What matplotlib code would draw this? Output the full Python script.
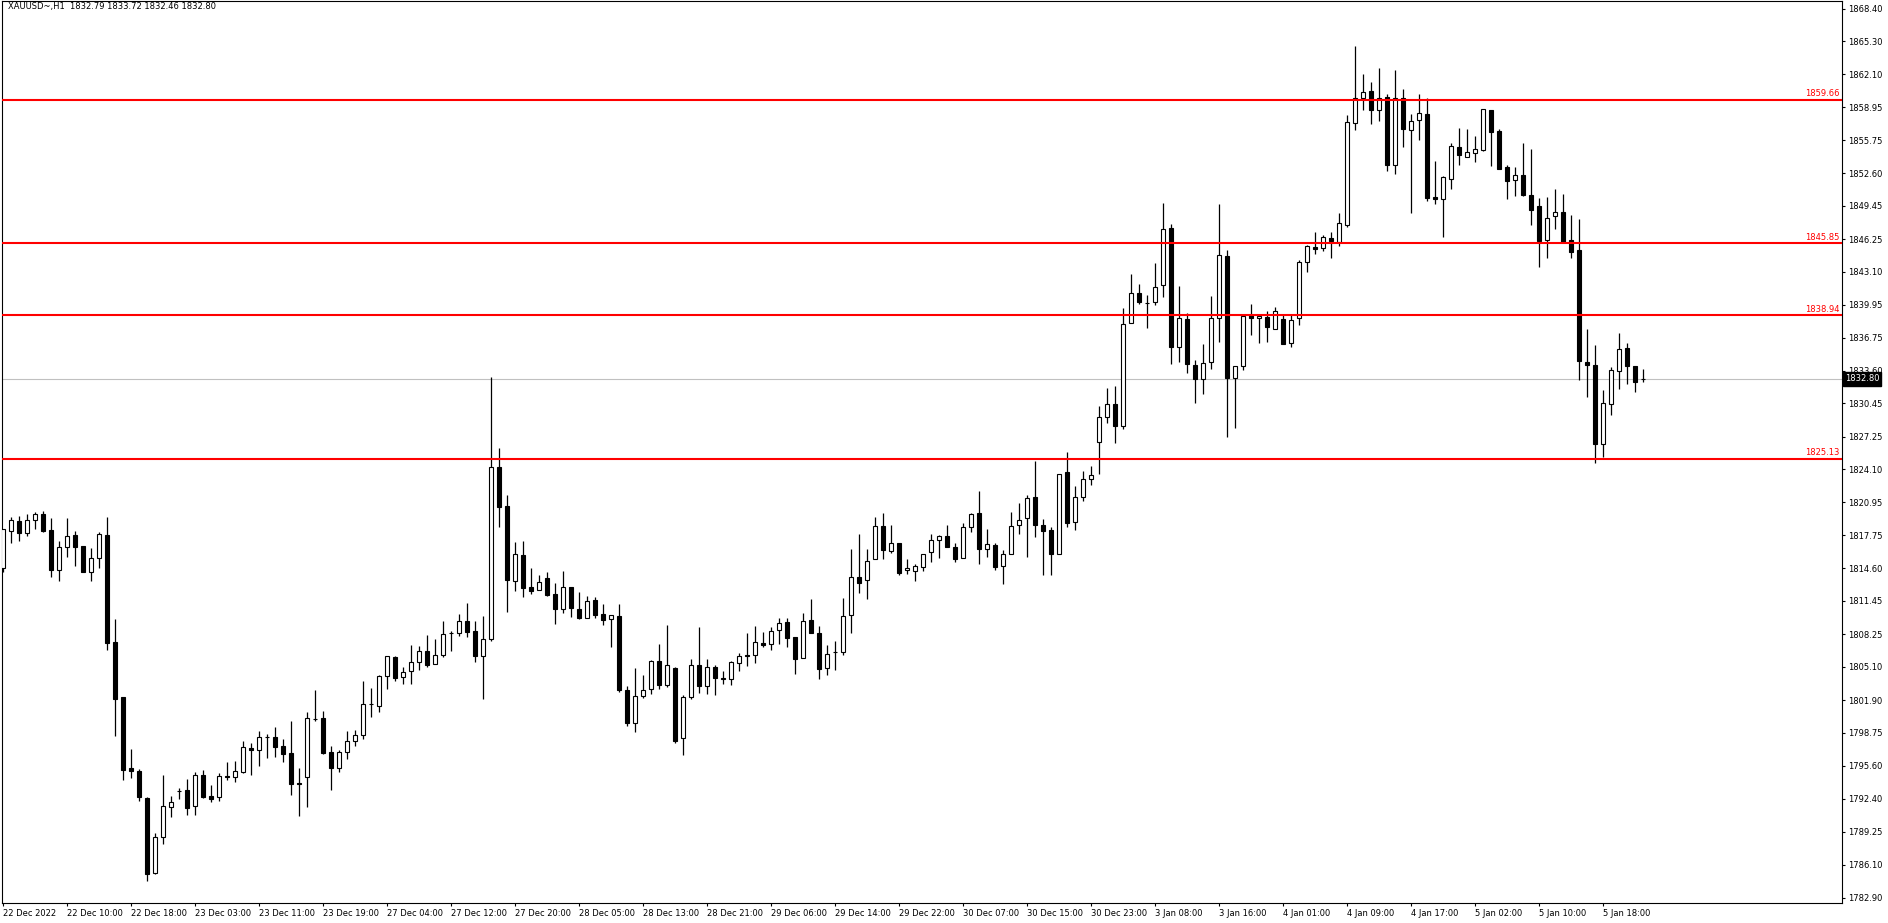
import matplotlib
matplotlib.use("Agg")
import matplotlib.pyplot as plt # matplotlib
import matplotlib.transforms as mtrans
import numpy as np # numpy

### data ###
symbol = "XAUUSD~,H1"
last_bar = [1832.79, 1833.72, 1832.46, 1832.80]  # o h l c of the last bar, shown in the title

opens = [
  1814.59, 1818.21, 1819.14, 1818.02, 1819.20, 1819.78, 1818.27, 1814.39, 1816.61, 1817.76,
  1816.73, 1814.27, 1815.61, 1817.76, 1807.47, 1802.21, 1795.38, 1795.09, 1792.50, 1785.31,
  1788.78, 1791.60, 1793.20, 1793.23, 1791.69, 1794.67, 1792.69, 1792.56, 1794.61, 1794.48,
  1794.99, 1797.30, 1797.08, 1798.36, 1798.33, 1797.46, 1796.79, 1793.90, 1794.48, 1800.12,
  1800.16, 1796.89, 1795.35, 1796.90, 1798.00, 1798.60, 1801.55, 1801.38, 1804.19, 1806.09,
  1804.10, 1804.68, 1805.54, 1806.60, 1805.35, 1806.21, 1808.37, 1808.33, 1809.49, 1808.56,
  1806.12, 1807.82, 1824.30, 1820.58, 1813.40, 1815.84, 1812.76, 1812.47, 1813.62, 1812.12,
  1810.64, 1812.79, 1810.67, 1809.78, 1811.54, 1810.19, 1809.68, 1810.00, 1802.88, 1799.74,
  1802.34, 1802.95, 1805.67, 1803.40, 1805.00, 1798.23, 1802.18, 1805.26, 1803.24, 1805.07,
  1804.04, 1803.91, 1805.45, 1806.25, 1806.22, 1807.37, 1807.31, 1808.63, 1809.43, 1807.98,
  1806.00, 1809.59, 1808.34, 1804.97, 1806.54, 1806.51, 1810.07, 1813.75, 1813.43, 1815.45,
  1818.63, 1816.29, 1816.99, 1814.39, 1814.36, 1814.75, 1816.13, 1817.28, 1817.66, 1816.61,
  1815.55, 1818.53, 1819.88, 1816.41, 1816.80, 1814.78, 1815.93, 1818.72, 1819.40, 1821.42,
  1818.72, 1818.24, 1815.93, 1823.82, 1819.01, 1821.42, 1823.15, 1826.71, 1829.11, 1830.36,
  1828.24, 1838.15, 1841.04, 1840.14, 1840.17, 1841.81, 1847.29, 1835.84, 1838.53, 1834.14,
  1832.76, 1834.46, 1838.63, 1844.63, 1832.93, 1834.01, 1838.99, 1838.63, 1838.79, 1837.64,
  1838.57, 1836.23, 1838.63, 1844.02, 1845.46, 1845.36, 1846.32, 1846.01, 1847.61, 1857.39,
  1859.79, 1860.46, 1858.64, 1859.88, 1853.41, 1859.79, 1856.71, 1857.67, 1858.25, 1850.30,
  1850.08, 1852.07, 1855.08, 1854.18, 1854.57, 1854.86, 1858.64, 1856.65, 1853.18, 1851.90,
  1852.38, 1850.49, 1849.40, 1846.13, 1848.44, 1848.83, 1846.13, 1845.17, 1834.40, 1834.11,
  1826.58, 1830.42, 1833.53, 1835.75, 1834.01, 1832.79]

highs = [
  1818.34, 1819.55, 1819.62, 1819.81, 1820.00, 1820.10, 1819.43, 1817.22, 1819.43, 1818.18,
  1816.73, 1816.54, 1818.11, 1819.52, 1809.71, 1802.21, 1797.21, 1795.25, 1792.56, 1789.13,
  1794.71, 1792.69, 1793.46, 1794.32, 1794.99, 1795.19, 1793.74, 1794.90, 1795.96, 1796.05,
  1797.98, 1797.78, 1798.94, 1798.65, 1799.32, 1798.17, 1799.90, 1795.38, 1800.76, 1802.88,
  1800.86, 1797.46, 1797.11, 1798.90, 1799.00, 1803.75, 1803.07, 1804.36, 1806.15, 1806.15,
  1805.06, 1807.21, 1807.11, 1808.17, 1807.79, 1809.52, 1808.56, 1810.19, 1811.25, 1809.52,
  1810.00, 1833.02, 1826.13, 1821.64, 1817.12, 1817.21, 1814.62, 1813.94, 1814.23, 1813.17,
  1814.33, 1812.79, 1812.31, 1811.92, 1811.80, 1811.15, 1810.06, 1811.15, 1803.24, 1805.00,
  1804.33, 1805.80, 1807.31, 1809.13, 1805.06, 1802.40, 1805.87, 1808.91, 1805.87, 1805.26,
  1804.68, 1805.67, 1806.45, 1808.40, 1809.04, 1808.46, 1808.94, 1809.81, 1809.81, 1807.98,
  1810.29, 1811.61, 1809.01, 1807.18, 1807.60, 1811.74, 1816.45, 1817.89, 1816.45, 1819.49,
  1819.91, 1818.75, 1816.99, 1815.48, 1815.00, 1815.93, 1817.89, 1817.79, 1818.75, 1816.99,
  1818.91, 1819.88, 1822.02, 1818.34, 1816.99, 1816.32, 1820.00, 1820.87, 1821.64, 1824.91,
  1819.33, 1818.53, 1823.63, 1825.78, 1822.51, 1823.95, 1824.43, 1830.20, 1831.93, 1832.09,
  1839.63, 1842.90, 1841.93, 1840.84, 1843.95, 1849.72, 1847.74, 1841.71, 1839.11, 1834.62,
  1836.16, 1840.78, 1849.63, 1845.20, 1834.01, 1838.95, 1840.01, 1838.92, 1839.31, 1839.72,
  1839.05, 1839.05, 1844.21, 1845.65, 1846.94, 1846.65, 1846.94, 1848.76, 1858.20, 1864.82,
  1862.13, 1861.33, 1862.68, 1860.17, 1862.48, 1860.66, 1858.28, 1860.17, 1859.79, 1853.76,
  1852.35, 1855.53, 1856.94, 1856.84, 1856.14, 1858.73, 1858.64, 1856.81, 1853.38, 1853.18,
  1855.49, 1854.92, 1850.17, 1850.27, 1851.04, 1850.56, 1848.54, 1848.15, 1837.57, 1836.03,
  1831.74, 1833.95, 1837.22, 1836.26, 1834.01, 1833.72]

lows = [
  1814.27, 1817.05, 1817.25, 1817.70, 1818.37, 1818.11, 1813.78, 1813.40, 1815.71, 1814.81,
  1814.27, 1813.40, 1814.65, 1806.76, 1798.49, 1794.26, 1794.45, 1792.24, 1784.54, 1785.22,
  1788.10, 1790.70, 1792.43, 1790.89, 1790.89, 1792.53, 1792.11, 1792.24, 1794.26, 1794.06,
  1794.87, 1794.74, 1795.60, 1796.37, 1796.47, 1795.99, 1792.81, 1790.79, 1791.66, 1799.93,
  1796.73, 1793.29, 1795.03, 1796.20, 1797.50, 1798.20, 1800.30, 1800.80, 1802.98, 1803.78,
  1803.43, 1803.43, 1804.77, 1805.06, 1805.35, 1806.02, 1806.67, 1808.11, 1808.01, 1805.61,
  1802.02, 1807.63, 1818.59, 1810.42, 1812.40, 1811.86, 1812.12, 1812.47, 1811.96, 1809.26,
  1810.32, 1809.94, 1809.74, 1809.78, 1809.84, 1809.17, 1807.05, 1802.72, 1799.45, 1798.88,
  1802.15, 1802.53, 1803.01, 1803.20, 1797.80, 1796.63, 1801.99, 1802.56, 1802.53, 1802.40,
  1803.50, 1803.40, 1804.71, 1805.23, 1805.52, 1806.99, 1806.77, 1807.34, 1807.05, 1804.46,
  1806.00, 1808.40, 1803.98, 1804.33, 1804.81, 1806.25, 1808.40, 1812.25, 1811.67, 1815.45,
  1815.45, 1816.09, 1813.98, 1814.07, 1813.40, 1814.36, 1815.23, 1815.61, 1816.61, 1815.23,
  1815.55, 1818.05, 1814.97, 1815.64, 1814.46, 1813.11, 1815.93, 1817.89, 1815.71, 1817.63,
  1813.98, 1813.98, 1815.93, 1818.53, 1818.27, 1821.10, 1822.63, 1823.63, 1828.53, 1826.61,
  1828.02, 1838.15, 1840.04, 1837.73, 1839.88, 1840.71, 1834.27, 1834.46, 1833.41, 1830.52,
  1831.35, 1833.79, 1836.39, 1827.25, 1828.12, 1833.66, 1837.06, 1836.29, 1836.35, 1837.57,
  1836.13, 1835.90, 1837.99, 1843.12, 1844.85, 1845.14, 1844.47, 1845.59, 1847.40, 1856.75,
  1858.67, 1857.36, 1857.64, 1852.83, 1852.55, 1855.14, 1848.79, 1855.82, 1849.95, 1849.66,
  1846.49, 1851.10, 1853.41, 1854.12, 1853.70, 1854.76, 1853.31, 1853.03, 1850.14, 1850.36,
  1850.43, 1847.64, 1843.60, 1844.47, 1847.25, 1845.84, 1844.47, 1832.70, 1831.10, 1824.75,
  1825.29, 1829.37, 1831.87, 1832.35, 1831.58, 1832.46]

closes = [
  1818.34, 1819.20, 1818.02, 1819.20, 1819.78, 1818.21, 1814.46, 1816.61, 1817.67, 1816.67,
  1814.27, 1815.55, 1817.86, 1807.44, 1802.05, 1795.22, 1795.12, 1792.62, 1785.22, 1788.74,
  1791.73, 1792.11, 1793.17, 1791.57, 1794.67, 1792.62, 1792.43, 1794.58, 1794.48, 1795.06,
  1797.37, 1797.08, 1798.33, 1798.33, 1797.43, 1796.76, 1793.87, 1793.87, 1800.16, 1800.09,
  1796.79, 1795.41, 1796.89, 1798.00, 1798.60, 1801.50, 1801.50, 1804.23, 1806.15, 1804.07,
  1804.64, 1805.54, 1806.60, 1805.25, 1806.21, 1808.24, 1808.33, 1809.49, 1808.49, 1806.19,
  1807.76, 1824.30, 1820.52, 1813.49, 1815.93, 1812.73, 1812.44, 1813.24, 1812.05, 1810.71,
  1812.79, 1810.80, 1809.81, 1811.41, 1810.13, 1809.65, 1810.06, 1802.91, 1799.74, 1802.27,
  1802.85, 1805.67, 1803.40, 1805.26, 1798.01, 1802.21, 1805.26, 1803.30, 1805.07, 1804.01,
  1803.98, 1805.55, 1806.12, 1806.19, 1807.47, 1807.25, 1808.56, 1809.30, 1807.92, 1805.90,
  1809.49, 1808.40, 1804.94, 1806.38, 1806.51, 1809.97, 1813.75, 1813.21, 1815.26, 1818.63,
  1816.32, 1816.99, 1814.17, 1814.62, 1814.81, 1815.93, 1817.31, 1817.70, 1816.61, 1815.52,
  1818.53, 1819.78, 1816.41, 1816.90, 1814.75, 1815.93, 1818.63, 1819.20, 1821.32, 1818.72,
  1818.15, 1815.93, 1823.63, 1818.92, 1821.42, 1823.15, 1823.53, 1829.17, 1830.36, 1828.24,
  1838.05, 1841.04, 1840.17, 1840.07, 1841.68, 1847.19, 1835.84, 1838.63, 1834.21, 1832.83,
  1834.30, 1838.63, 1844.69, 1832.93, 1834.01, 1838.86, 1838.66, 1838.86, 1837.83, 1839.31,
  1836.20, 1838.44, 1844.02, 1845.56, 1845.33, 1846.42, 1846.10, 1847.77, 1857.50, 1859.79,
  1860.37, 1858.64, 1859.85, 1853.41, 1859.85, 1856.81, 1857.58, 1858.35, 1850.24, 1850.14,
  1852.22, 1855.17, 1854.37, 1854.60, 1854.89, 1858.73, 1856.58, 1853.03, 1851.87, 1852.38,
  1850.52, 1849.08, 1846.10, 1848.25, 1848.83, 1846.00, 1845.04, 1834.56, 1834.17, 1826.58,
  1830.45, 1833.63, 1835.65, 1834.08, 1832.54, 1832.80]

# horizontal levels drawn by hand on the chart
levels = [1859.66, 1845.85, 1838.94, 1825.13]
bid = 1832.80

# right price scale and bottom time scale
price_ticks = [1868.40, 1865.30, 1862.10, 1858.95, 1855.75, 1852.60, 1849.45, 1846.25, 1843.10,
  1839.95, 1836.75, 1833.60, 1830.45, 1827.25, 1824.10, 1820.95, 1817.75, 1814.60, 1811.45,
  1808.25, 1805.10, 1801.90, 1798.75, 1795.60, 1792.40, 1789.25, 1786.10, 1782.90]
time_labels = ["22 Dec 2022", "22 Dec 10:00", "22 Dec 18:00", "23 Dec 03:00", "23 Dec 11:00",
  "23 Dec 19:00", "27 Dec 04:00", "27 Dec 12:00", "27 Dec 20:00", "28 Dec 05:00", "28 Dec 13:00",
  "28 Dec 21:00", "29 Dec 06:00", "29 Dec 14:00", "29 Dec 22:00", "30 Dec 07:00", "30 Dec 15:00",
  "30 Dec 23:00", "3 Jan 08:00", "3 Jan 16:00", "4 Jan 01:00", "4 Jan 09:00", "4 Jan 17:00",
  "5 Jan 02:00", "5 Jan 10:00", "5 Jan 18:00"]
label_every = 8  # one time label every 8 bars

FS = 6.0  # font size of all the small texts

### functions ###
def draw_candles(ax) :
  o = np.array(opens)
  h = np.array(highs)
  l = np.array(lows)
  c = np.array(closes)
  x = np.arange(len(o))
  up = c >= o
  ax.vlines(x, l, h, color="black", lw=0.9, zorder=2)
  body = np.maximum(np.abs(c - o), 0.02)
  ax.bar(x, body, bottom=np.minimum(o, c), width=0.52,
         color=np.where(up, "white", "black"), edgecolor="black", linewidth=0.8, zorder=3)

def draw_levels(ax) :
  tr = mtrans.blended_transform_factory(ax.transAxes, ax.transData)
  for p in levels :
    ax.axhline(p, color="#ff0000", lw=1.5, zorder=4)
    ax.text(0.9985, p + 0.12, f"{p:.2f}", transform=tr, color="#ff0000",
            fontsize=FS, ha="right", va="bottom", zorder=5)
  ax.axhline(bid, color="#c0c0c0", lw=0.8, zorder=1)
  ax.text(1.0015, bid, f"{bid:.2f}", transform=tr, color="white", fontsize=FS,
          ha="left", va="center", clip_on=False, zorder=10,
          bbox=dict(boxstyle="square,pad=0.25", fc="black", ec="black"))

### plot ###
W, H = 1888, 923
fig = plt.figure(figsize=(W / 100, H / 100), dpi=100)
left, right, top, bottom = 2, 1842, 1, 903  # plot box in pixels
ax = fig.add_axes([left / W, (H - bottom) / H, (right - left) / W, (bottom - top) / H])

draw_candles(ax)
draw_levels(ax)

# 8 px per bar, first bar 1.3 px right of the frame
ax.set_xlim(-1.3 / 8, (right - left - 1.3) / 8)
ax.set_ylim(1782.397, 1869.153)

ax.yaxis.tick_right()
ax.set_yticks(price_ticks)
ax.set_yticklabels([f"{p:.2f}" for p in price_ticks])
ax.set_xticks(np.arange(len(time_labels)) * label_every)
ax.set_xticklabels(time_labels)
for t in ax.get_xticklabels() :
  t.set_ha("left")
ax.tick_params(axis="y", direction="out", length=2.5, width=0.8, labelsize=FS, pad=2)
ax.tick_params(axis="x", direction="out", length=2.5, width=0.8, labelsize=FS, pad=1.5)
for s in ax.spines.values() :
  s.set_linewidth(0.8)
  s.set_color("black")

fig.text(8 / W, 1 - 7 / H, f"{symbol}  " + " ".join(f"{v:.2f}" for v in last_bar),
         fontsize=FS, ha="left", va="center")

fig.savefig("out.png", dpi=100, facecolor="white")
